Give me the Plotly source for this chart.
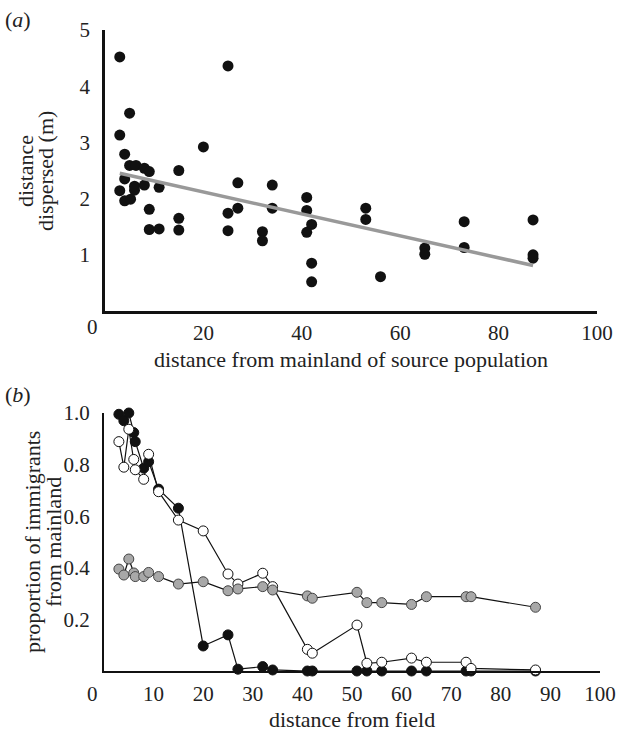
import plotly.graph_objects as go

W, H = 621, 731

# ---------------- Panel (a) data ----------------
a_x = [3, 25, 5, 3, 20, 4, 5, 6.3, 8, 9, 15, 4, 3, 6, 6, 8, 11, 27, 34,
       4, 5.2, 41, 9, 27, 25, 34, 41, 15, 42, 9, 11, 15, 25, 32, 32, 41, 42, 42,
       53, 53, 56, 65, 65, 73, 73, 87, 87, 87]
a_y = [4.52, 4.36, 3.52, 3.13, 2.92, 2.79, 2.59, 2.59, 2.54, 2.48, 2.50, 2.35, 2.14, 2.15, 2.22, 2.24, 2.20, 2.28, 2.24,
       1.96, 1.99, 2.02, 1.81, 1.83, 1.74, 1.83, 1.79, 1.65, 1.54, 1.45, 1.46, 1.44, 1.43, 1.41, 1.25, 1.40, 0.85, 0.52,
       1.83, 1.63, 0.61, 1.12, 1.01, 1.59, 1.13, 1.62, 1.00, 0.94]
fit_x = [3, 87]
fit_y = [2.45, 0.81]

a_xticks = [20, 40, 60, 80, 100]
a_yticks = [1, 2, 3, 4, 5]

# ---------------- Panel (b) data ----------------
b_x = [3, 4, 5, 6, 6.3, 8, 9, 11, 15, 20, 25, 27, 32, 34, 41, 42, 51, 53, 56, 62, 65, 73, 74, 87]
b_black = [0.995, 0.97, 1.0, 0.924, 0.889, 0.786, 0.811, 0.705, 0.631, 0.097, 0.14, 0.007, 0.017, 0.004,
           0, 0, 0, 0, 0, 0, 0, 0, 0, 0]
b_white = [0.889, 0.79, 0.937, 0.82, 0.78, 0.743, 0.84, 0.695, 0.585, 0.543, 0.376, 0.337, 0.379, 0.327,
           0.084, 0.069, 0.178, 0.03, 0.034, 0.05, 0.034, 0.034, 0.01, 0.004]
b_gray = [0.395, 0.372, 0.434, 0.38, 0.366, 0.366, 0.382, 0.366, 0.337, 0.346, 0.311, 0.318, 0.327, 0.314,
          0.291, 0.282, 0.305, 0.265, 0.265, 0.258, 0.288, 0.288, 0.288, 0.247]

b_xticks = [10, 20, 30, 40, 50, 60, 70, 80, 90, 100]
b_yticks = [0.2, 0.4, 0.6, 0.8, 1.0]
b_yticklabels = ["0.2", "0.4", "0.6", "0.8", "1.0"]

FONT = "Liberation Serif, Times New Roman, Tinos, serif"
TICK = 21
TITLE = 22


def px_x(p):
    return p / W


def px_y(p):
    return 1 - p / H


fig = go.Figure()

# panel a
fig.add_trace(go.Scatter(x=a_x, y=a_y, mode="markers", xaxis="x", yaxis="y", cliponaxis=False,
                         marker=dict(size=11, color="#111111", line=dict(width=0)),
                         showlegend=False))
fig.add_trace(go.Scatter(x=fit_x, y=fit_y, mode="lines", xaxis="x", yaxis="y",
                         line=dict(color="#999999", width=3.5), showlegend=False))

# panel b
common = dict(mode="lines+markers", xaxis="x2", yaxis="y2", showlegend=False, cliponaxis=False,
              line=dict(color="#111111", width=1.2))
fig.add_trace(go.Scatter(x=b_x, y=b_black, **common,
                         marker=dict(size=10, color="#111111", line=dict(color="#111111", width=1))))
fig.add_trace(go.Scatter(x=b_x, y=b_white, **common,
                         marker=dict(size=10, color="white", line=dict(color="#111111", width=1))))
fig.add_trace(go.Scatter(x=b_x, y=b_gray, **common,
                         marker=dict(size=10, color="#a8a8a8", line=dict(color="#444444", width=1))))

axis_common = dict(showgrid=False, zeroline=False, showline=True, linecolor="#111111",
                   ticks="outside", tickcolor="rgba(0,0,0,0)", automargin=False,
                   tickfont=dict(family=FONT, size=TICK, color="#222222"))

fig.update_layout(
    template="none",
    width=W, height=H, autosize=False,
    margin=dict(l=0, r=0, t=0, b=0, pad=0),
    paper_bgcolor="white", plot_bgcolor="white",
    font=dict(family=FONT),
    xaxis=dict(domain=[px_x(105), px_x(597)], range=[0, 100], anchor="y",
               tickvals=a_xticks, ticklen=1, linewidth=2.5, **axis_common),
    yaxis=dict(domain=[px_y(311), px_y(30)], range=[0, 5], anchor="x",
               tickvals=a_yticks, ticklen=8, linewidth=2.5, **axis_common),
    xaxis2=dict(domain=[px_x(104), px_x(600)], range=[0, 100], anchor="y2",
                tickvals=b_xticks, ticklen=3, linewidth=2.2, **axis_common),
    yaxis2=dict(domain=[px_y(671), px_y(413)], range=[0, 1.0], anchor="x2",
                tickvals=b_yticks, ticktext=b_yticklabels, ticklen=8, linewidth=2.2, **axis_common),
)

ann_font = dict(family=FONT, size=TITLE, color="#222222")
tick_font = dict(family=FONT, size=TICK, color="#222222")


def ann(text, x, y, font, angle=0):
    fig.add_annotation(text=text, x=px_x(x), y=px_y(y), xref="paper", yref="paper",
                       showarrow=False, xanchor="center", yanchor="middle",
                       textangle=angle, font=font)


ann("(<i>a</i>)", 18, 20, ann_font)
ann("(<i>b</i>)", 18, 394, ann_font)
ann("0", 92, 327, tick_font)
ann("0", 92, 694, tick_font)
ann("distance from mainland of source population", 351, 359, ann_font)
ann("distance from field", 352, 719, ann_font)
ann("distance", 25, 171, ann_font, -90)
ann("dispersed (m)", 45, 171, ann_font, -90)
ann("proportion of immigrants", 32, 542, ann_font, -90)
ann("from mainland", 53, 542, ann_font, -90)

fig.write_html("out.html")
